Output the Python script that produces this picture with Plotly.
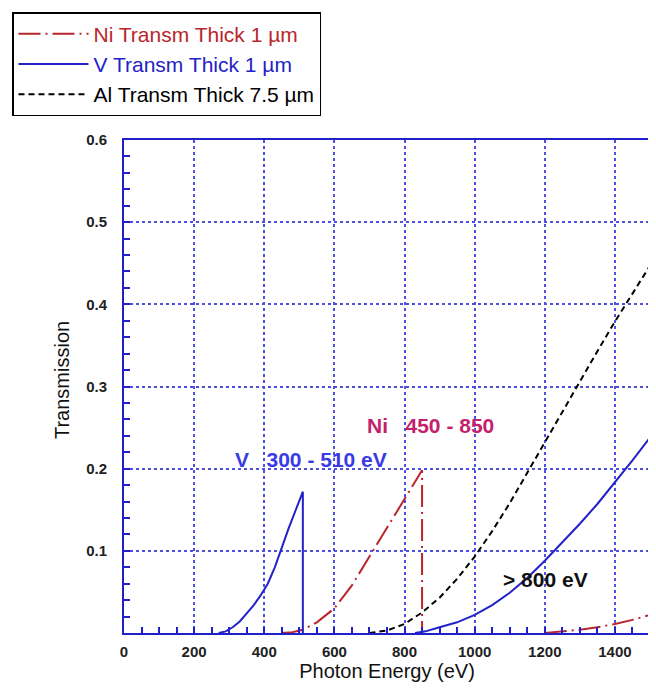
import plotly.graph_objects as go

# ---- data ----
v_x1 = [270, 290, 310, 330, 350, 370, 390, 410, 430, 450, 470, 490, 510, 510]
v_y1 = [0.0, 0.002, 0.007, 0.014, 0.024, 0.034, 0.046, 0.060, 0.080, 0.105, 0.128, 0.150, 0.172, 0.0]
v_x2 = [830, 860, 900, 950, 1000, 1050, 1100, 1150, 1200, 1250, 1300, 1350, 1400, 1450, 1500]
v_y2 = [0.0, 0.002, 0.007, 0.013, 0.022, 0.034, 0.049, 0.067, 0.088, 0.110, 0.133, 0.157, 0.183, 0.210, 0.238]

ni_x1 = [450, 480, 510, 550, 600, 650, 700, 750, 800, 850, 850]
ni_y1 = [0.0, 0.001, 0.004, 0.013, 0.030, 0.058, 0.093, 0.128, 0.162, 0.198, 0.0]
ni_x2 = [1200, 1250, 1300, 1350, 1400, 1450, 1500]
ni_y2 = [0.0, 0.002, 0.004, 0.007, 0.011, 0.016, 0.022]

al_x = [700, 750, 800, 850, 900, 950, 1000, 1050, 1100, 1150, 1200, 1250, 1300, 1350, 1400, 1450, 1500]
al_y = [0.0, 0.003, 0.011, 0.025, 0.043, 0.066, 0.093, 0.124, 0.158, 0.195, 0.233, 0.270, 0.306, 0.343, 0.379, 0.413, 0.447]

x_ticks = [0, 200, 400, 600, 800, 1000, 1200, 1400]
y_ticks = [0.1, 0.2, 0.3, 0.4, 0.5, 0.6]

RED = "#b8262b"
BLUE = "#2222c8"
AXIS_BLUE = "#1f1fcc"
GRID_BLUE = "#5050e0"
FONT = "Liberation Sans, Arial, sans-serif"

fig = go.Figure()

ni_line = dict(color=RED, width=2, dash="22px,5px,2px,5px")
v_line = dict(color=BLUE, width=2)
al_line = dict(color="black", width=2, dash="6px,4px")

fig.add_trace(go.Scatter(x=ni_x1, y=ni_y1, mode="lines", line=ni_line, legendgroup="ni",
                         name=f"<span style='color:{RED}'>Ni Transm Thick 1 µm</span>"))
fig.add_trace(go.Scatter(x=ni_x2, y=ni_y2, mode="lines", line=ni_line, legendgroup="ni",
                         showlegend=False))
fig.add_trace(go.Scatter(x=v_x1, y=v_y1, mode="lines", line=v_line, legendgroup="v",
                         name=f"<span style='color:{BLUE}'>V Transm Thick 1 µm</span>"))
fig.add_trace(go.Scatter(x=v_x2, y=v_y2, mode="lines", line=v_line, legendgroup="v",
                         showlegend=False))
fig.add_trace(go.Scatter(x=al_x, y=al_y, mode="lines", line=al_line,
                         name="Al Transm Thick 7.5 µm"))

axis_common = dict(
    showline=True, linecolor=AXIS_BLUE, linewidth=2, mirror=True,
    showgrid=True, gridcolor=GRID_BLUE, gridwidth=1.5, griddash="dot",
    ticks="inside", ticklen=6, tickcolor=AXIS_BLUE, tickwidth=1.5,
    tickfont=dict(family=FONT, size=15, color="#222222", weight="bold"),
    zeroline=False,
)

fig.update_xaxes(
    range=[0, 1500], tickvals=x_ticks, ticktext=[str(t) for t in x_ticks],
    ticklabelstandoff=4,
    minor=dict(dtick=50, ticks="inside", ticklen=6, tickcolor=AXIS_BLUE, tickwidth=1.5, showgrid=False),
    title=dict(text="Photon Energy (eV)", font=dict(family=FONT, size=20, color="#111111"), standoff=4),
    **axis_common,
)
fig.update_yaxes(
    range=[0, 0.6], tickvals=y_ticks, ticktext=[f"{t:.1f}" for t in y_ticks],
    ticklabelstandoff=12,
    minor=dict(dtick=0.02, ticks="inside", ticklen=6, tickcolor=AXIS_BLUE, tickwidth=1.5, showgrid=False),
    **axis_common,
)

# y-axis title
fig.add_annotation(xref="paper", yref="paper", x=-0.118, y=0.513, text="Transmission",
                   textangle=-90, showarrow=False, xanchor="center", yanchor="middle",
                   font=dict(family=FONT, size=20, color="#111111"))

fig.add_annotation(x=533, y=0.211, text="V&nbsp;&nbsp;&nbsp;300 - 510 eV", showarrow=False,
                   font=dict(family=FONT, size=21, color="#3a3ae8", weight="bold"))
fig.add_annotation(x=873, y=0.252, text="Ni&nbsp;&nbsp;&nbsp;450 - 850", showarrow=False,
                   font=dict(family=FONT, size=21, color="#c41f6c", weight="bold"))
fig.add_annotation(x=1203, y=0.065, text="&gt; 800 eV", showarrow=False,
                   font=dict(family=FONT, size=21, color="#111111", weight="bold"))

# page is rendered with an 8px body margin, so the figure is shifted by 8px
fig.update_layout(
    width=656, height=689,
    margin=dict(l=116, r=14, t=132, b=64, autoexpand=False),
    paper_bgcolor="white", plot_bgcolor="white",
    font=dict(family=FONT),
    showlegend=True,
    legend=dict(
        xref="container", yref="container",
        x=4 / 656, y=1 - 4 / 689, xanchor="left", yanchor="top",
        bgcolor="white", bordercolor="black", borderwidth=1.5,
        font=dict(family=FONT, size=21, color="black"),
        itemwidth=70, tracegroupgap=0,
    ),
)

fig.write_html("out.html")
